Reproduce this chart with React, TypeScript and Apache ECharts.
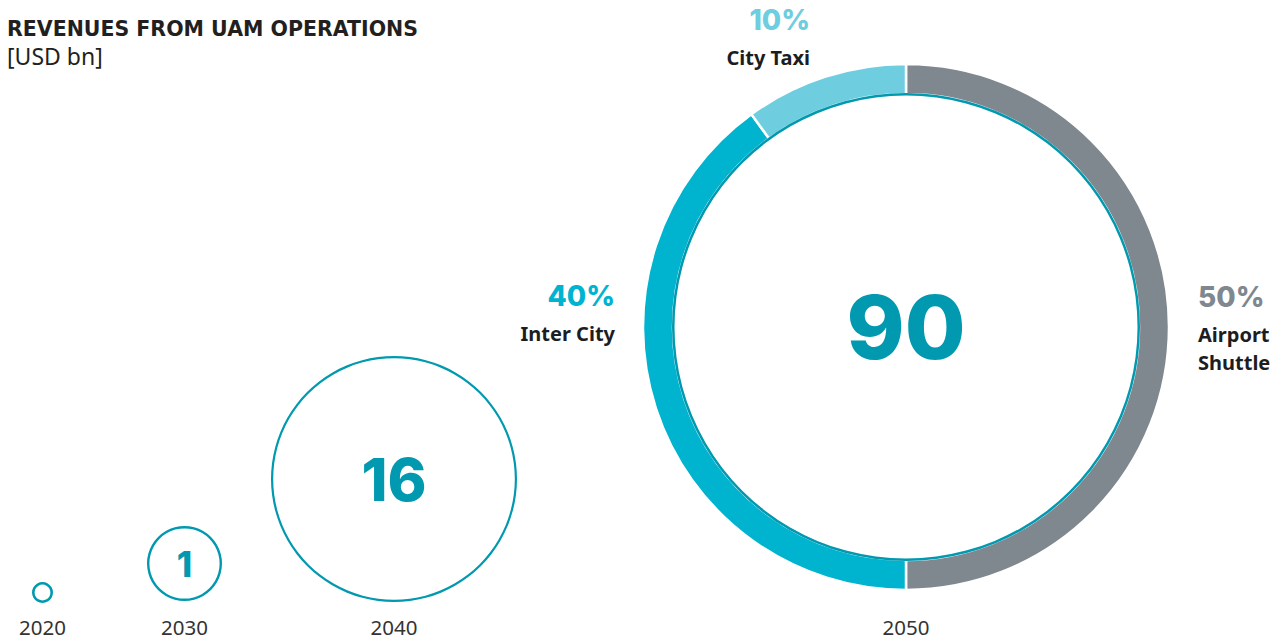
import { useEffect, useRef } from 'react';
import * as echarts from 'echarts';

// ---- data ----
const titleText = 'REVENUES FROM UAM OPERATIONS';
const unitText = '[USD bn]';
const years = ['2020', '2030', '2040', '2050'];
const revenues = [0, 1, 16, 90]; // USD bn (2020 not labelled)
const segmentNames = ['Airport\nShuttle', 'Inter City', 'City Taxi'];
const segmentShares = [50, 40, 10]; // % of 2050 revenues

// ---- layout / style (not data) ----
const layout = [
  { cx: 42.5, cy: 592.5, r: 10.5, w: 2.6, fs: 0 },
  { cx: 184.5, cy: 563.5, r: 37.5, w: 2.4, fs: 35 },
  { cx: 394, cy: 479, r: 123, w: 2.2, fs: 59 },
  { cx: 906, cy: 327, r: 263, inner: 233, fs: 88 },
];
const TEAL = '#0099b0';
const segColors = ['#7f878f', '#00b4d0', '#6fcde0'];
const labelPos = [
  { x: 1198, y: 274, align: 'left' },
  { x: 615, y: 273, align: 'right' },
  { x: 810, y: -3, align: 'right' },
];
const NUM_FONT = 'Inter, Roboto, sans-serif';
const NUM_WEIGHT = 800;
const TXT_FONT = '"Noto Sans", "Open Sans", sans-serif';
const TITLE_FONT = '"DejaVu Sans", "Noto Sans", sans-serif';

export default function App() {
  const ref = useRef<HTMLDivElement>(null);
  useEffect(() => {
    document.body.style.margin = '0';
    const chart = echarts.init(ref.current!, null, { renderer: 'svg' });
    const series: any[] = [];
    // small circles (2020-2040)
    for (let i = 0; i < 3; i++) {
      const L = layout[i];
      series.push({
        type: 'pie',
        silent: true,
        center: [L.cx, L.cy],
        radius: [L.r - L.w!, L.r],
        data: [{ name: years[i], value: revenues[i] }],
        itemStyle: { color: TEAL },
        label: {
          show: L.fs > 0,
          position: 'center',
          formatter: String(revenues[i]),
          fontFamily: NUM_FONT,
          fontWeight: NUM_WEIGHT,
          fontSize: L.fs,
          color: TEAL,
        },
        labelLine: { show: false },
      });
    }
    // 2050 donut
    const D = layout[3];
    series.push({
      type: 'pie',
      silent: true,
      center: [D.cx, D.cy],
      radius: [D.inner!, D.r],
      startAngle: 90,
      clockwise: true,
      data: segmentNames.map((n, i) => ({
        name: n,
        value: segmentShares[i],
        itemStyle: { color: segColors[i] },
        label: {
          rich: {
            pct: {
              fontFamily: NUM_FONT,
              fontWeight: NUM_WEIGHT,
              fontSize: 28,
              lineHeight: 46,
              color: segColors[i],
              align: labelPos[i].align,
            },
            name: {
              fontFamily: TXT_FONT,
              fontWeight: 'bold',
              fontSize: 20,
              lineHeight: 28,
              color: '#1d1d1f',
              align: labelPos[i].align,
            },
          },
        },
      })),
      itemStyle: { borderColor: '#ffffff', borderWidth: 2.5 },
      label: {
        show: true,
        position: 'outside',
        overflow: 'none',
        formatter: (p: any) =>
          `{pct|${p.value}%}\n` + p.name.split('\n').map((s: string) => `{name|${s}}`).join('\n'),
      },
      labelLine: { show: false },
      labelLayout: (p: any) => ({
        x: labelPos[p.dataIndex].x,
        y: labelPos[p.dataIndex].y,
        align: labelPos[p.dataIndex].align,
        verticalAlign: 'top',
        width: 200,
      }),
    });
    // inner teal line + center value
    series.push({
      type: 'pie',
      silent: true,
      center: [D.cx, D.cy],
      radius: [D.inner! - 1.5, D.inner! + 1],
      data: [{ name: years[3], value: revenues[3] }],
      itemStyle: { color: TEAL },
      label: {
        show: true,
        position: 'center',
        formatter: String(revenues[3]),
        fontFamily: NUM_FONT,
        fontWeight: NUM_WEIGHT,
        fontSize: D.fs,
        color: TEAL,
      },
      labelLine: { show: false },
    });

    chart.setOption({
      animation: false,
      title: {
        text: titleText,
        subtext: unitText,
        left: 2,
        top: 13,
        itemGap: 5,
        textStyle: { fontFamily: TITLE_FONT, fontWeight: 'bold', fontSize: 20.5, color: '#231f20' },
        subtextStyle: { fontFamily: TXT_FONT, fontWeight: 'normal', fontSize: 23, color: '#231f20' },
      },
      graphic: years.map((y, i) => ({
        type: 'text',
        x: layout[i].cx,
        y: 627,
        style: {
          text: y,
          fontFamily: TXT_FONT,
          fontSize: 20.5,
          fill: '#333333',
          align: 'center',
          verticalAlign: 'middle',
        },
      })),
      series,
    });
    return () => chart.dispose();
  }, []);
  return <div ref={ref} style={{ width: 1288, height: 640 }} />;
}
